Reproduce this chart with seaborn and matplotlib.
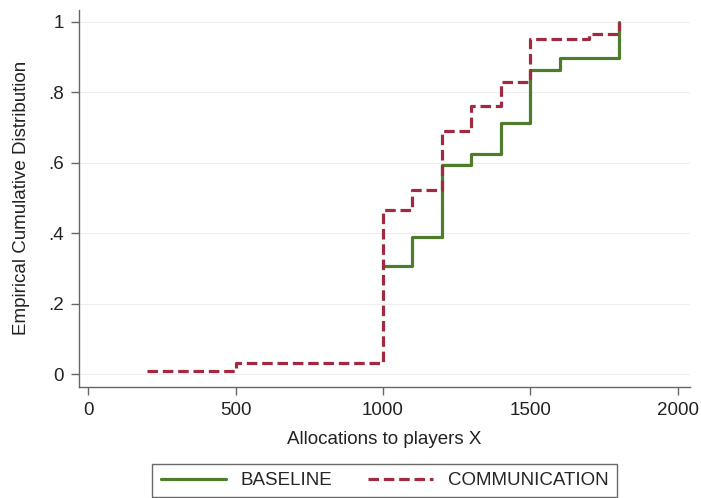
import numpy as np
import pandas as pd
import matplotlib
matplotlib.use("Agg")
import matplotlib.pyplot as plt
import seaborn as sns

# Step values
base_x = [1000, 1100, 1200, 1300, 1400, 1500, 1600, 1800]
base_y = [0.306, 0.39, 0.593, 0.624, 0.713, 0.862, 0.896, 1.0]
comm_x = [200, 500, 1000, 1100, 1200, 1300, 1400, 1500, 1700, 1800]
comm_y = [0.01, 0.033, 0.467, 0.523, 0.69, 0.76, 0.83, 0.952, 0.966, 1.0]

x_ticks = [0, 500, 1000, 1500, 2000]
y_ticks = [0, 0.2, 0.4, 0.6, 0.8, 1.0]
y_labels = ["0", ".2", ".4", ".6", ".8", "1"]

sns.set_style("white")
plt.rcParams['font.family'] = ['Liberation Sans', 'DejaVu Sans']

fs = 13.5
fig = plt.figure(figsize=(7.01, 4.98), dpi=100)
ax = fig.add_axes([0.1127, 0.2235, 0.8713, 0.7565])

df_b = pd.DataFrame({"x": base_x, "y": base_y})
df_c = pd.DataFrame({"x": comm_x, "y": comm_y})

sns.lineplot(data=df_b, x="x", y="y", ax=ax, drawstyle="steps-post",
             color="#4f7b2c", lw=2.3, label="BASELINE")
sns.lineplot(data=df_c, x="x", y="y", ax=ax, drawstyle="steps-post",
             color="#a02a40", lw=2.3, dashes=(3.3, 1.5), label="COMMUNICATION")

ax.set_xlim(-31, 2041)
ax.set_ylim(-0.035, 1.033)
ax.set_xticks(x_ticks)
ax.set_yticks(y_ticks)
ax.set_yticklabels(y_labels)
ax.grid(axis="y", color="#eeeeee", lw=0.8)
ax.set_axisbelow(True)

for s in ["top", "right"]:
    ax.spines[s].set_visible(False)
for s in ["left", "bottom"]:
    ax.spines[s].set_color("#666666")
    ax.spines[s].set_linewidth(1.0)
ax.tick_params(axis="both", direction="out", length=6, width=1, color="#666666",
               labelsize=fs, labelcolor="#222222", pad=5, left=True, bottom=True)

ax.set_xlabel("Allocations to players X", fontsize=fs, color="#222222", labelpad=9)
ax.set_ylabel("Empirical Cumulative Distribution", fontsize=fs, color="#222222", labelpad=13)

handles, labels = ax.get_legend_handles_labels()
ax.get_legend().remove()
leg = fig.legend(handles, labels, loc="center", bbox_to_anchor=(0.5485, 0.035), ncol=2,
                 fontsize=fs, frameon=True, fancybox=False, handlelength=3.5,
                 columnspacing=1.9, borderpad=0.35, handletextpad=0.75, borderaxespad=0.0)
leg._legend_box.pad = 6
leg.get_frame().set_edgecolor("#444444")
leg.get_frame().set_linewidth(1.0)

fig.savefig("out.png", dpi=100)
